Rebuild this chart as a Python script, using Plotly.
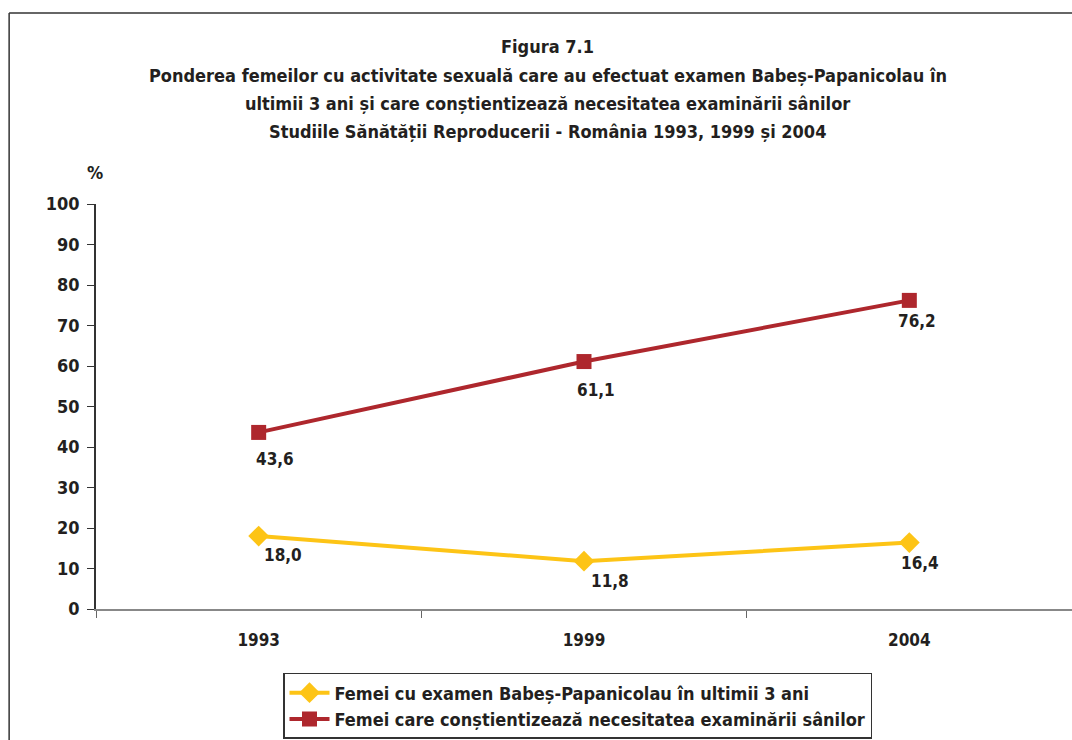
import plotly.graph_objects as go

years = ["1993", "1999", "2004"]
pap_test = [18.0, 11.8, 16.4]
breast_awareness = [43.6, 61.1, 76.2]
pap_labels = ["18,0", "11,8", "16,4"]
breast_labels = ["43,6", "61,1", "76,2"]

title_lines = [
    "Figura 7.1",
    "Ponderea femeilor cu activitate sexuală care au efectuat examen Babeș-Papanicolau în",
    "ultimii 3 ani și care conștientizează necesitatea examinării sânilor",
    "Studiile Sănătății Reproducerii - România 1993, 1999 și 2004",
]

FONT = "Liberation Sans Narrow, DejaVu Sans Condensed, Arial Narrow, sans-serif"
TXT = "#231F20"
RED = "#AE272D"
YELLOW = "#FDC416"

fig = go.Figure()

fig.add_trace(go.Scatter(
    x=years, y=pap_test, mode="lines+markers",
    name="<b>Femei cu examen Babeș-Papanicolau în ultimii 3 ani</b>",
    line=dict(color=YELLOW, width=4),
    marker=dict(symbol="diamond", size=16, color=YELLOW),
))
fig.add_trace(go.Scatter(
    x=years, y=breast_awareness, mode="lines+markers",
    name="<b>Femei care conștientizează necesitatea examinării sânilor</b>",
    line=dict(color=RED, width=4),
    marker=dict(symbol="square", size=15, color=RED),
))

# value labels, nudged below/right of each marker like the original
# (x given as category index: "1993" would be read as a position)
pap_shift = [(24, -19), (26, -20), (11, -20)]
breast_shift = [(16, -27), (12, -28), (8, -21)]
for vals, labels, shifts in [(pap_test, pap_labels, pap_shift),
                             (breast_awareness, breast_labels, breast_shift)]:
    for i, (v, lab, (dx, dy)) in enumerate(zip(vals, labels, shifts)):
        fig.add_annotation(x=i, y=v, text="<b>%s</b>" % lab, showarrow=False,
                           xshift=dx, yshift=dy, xanchor="center", yanchor="middle",
                           font=dict(family=FONT, size=17, color=TXT))

# title, one annotation per line to keep the wide line spacing
title_y = [1.39, 1.3185, 1.247, 1.18]
for line, ty in zip(title_lines, title_y):
    fig.add_annotation(text="<b>%s</b>" % line, xref="paper", yref="paper",
                       x=0.463, y=ty, xanchor="center", yanchor="middle",
                       showarrow=False, font=dict(family=FONT, size=18, color=TXT))

fig.add_annotation(text="<b>%</b>", xref="paper", yref="paper", x=-0.001, y=1.079,
                   xanchor="center", yanchor="middle", showarrow=False,
                   font=dict(family=FONT, size=18, color=TXT))

# outer frame: only top and left edges are inside the picture
fig.add_shape(type="line", xref="paper", yref="paper",
              x0=-0.089, x1=1.2, y0=1.4716, y1=1.4716,
              line=dict(color="#333333", width=1.5))
fig.add_shape(type="line", xref="paper", yref="paper",
              x0=-0.089, x1=-0.089, y0=-0.6, y1=1.4716,
              line=dict(color="#333333", width=1.5))

fig.update_xaxes(
    type="category", range=[-0.5, 2.5], showline=True, linecolor="#888888", linewidth=2,
    ticks="outside", tickson="boundaries", ticklen=7, tickcolor="#666666",
    tickfont=dict(family=FONT, size=17, color=TXT), ticklabelstandoff=15,
    tickprefix="<b>", ticksuffix="</b>", showgrid=False, zeroline=False,
)
fig.update_yaxes(
    range=[0, 100], dtick=10, showline=True, linecolor="#333333", linewidth=1.5,
    ticks="outside", ticklen=7, tickcolor="#333333",
    tickfont=dict(family=FONT, size=18, color=TXT), ticklabelstandoff=4,
    tickprefix="<b>", ticksuffix="</b>", showgrid=False, zeroline=False,
)

fig.update_layout(
    width=1072, height=740,
    margin=dict(l=96, r=0, t=204, b=131),
    paper_bgcolor="white", plot_bgcolor="white",
    font=dict(family=FONT, color=TXT),
    showlegend=True,
    legend=dict(x=0.1916, y=-0.158, xanchor="left", yanchor="top",
                bordercolor="#333333", borderwidth=1.5, bgcolor="white",
                font=dict(family=FONT, size=18, color=TXT),
                itemwidth=40, tracegroupgap=0),
)

# page without the default 8px body margin or scrollbars, so the figure fills the window
fig.write_html("out.html", config={"displayModeBar": False},
               post_script="document.body.style.margin='0';"
                           "document.documentElement.style.overflow='hidden';")
